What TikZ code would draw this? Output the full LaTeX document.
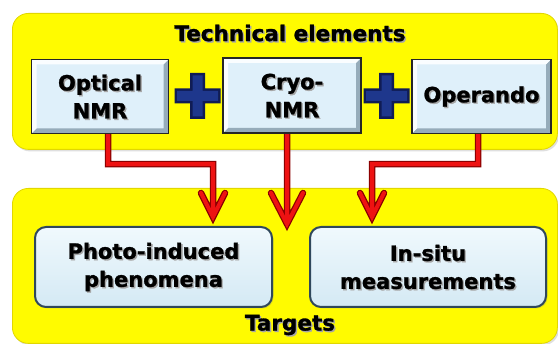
\documentclass[tikz,border=0pt]{standalone}
\usepackage{fontspec}
\setmainfont{DejaVu Sans}[BoldFeatures={FakeBold=1.3}]
\usetikzlibrary{calc,shadows}

\definecolor{panelyellow}{RGB}{255,251,0}
\definecolor{paneledge}{RGB}{225,215,0}
\definecolor{boxfill}{RGB}{223,240,250}
\definecolor{boxtop}{RGB}{240,249,253}
\definecolor{boxbottom}{RGB}{212,233,244}
\definecolor{bevdark}{RGB}{150,172,186}
\definecolor{bevlight}{RGB}{250,253,255}
\definecolor{rimblue}{RGB}{48,72,92}
\definecolor{navydark}{RGB}{16,28,85}
\definecolor{navymid}{RGB}{30,55,140}
\definecolor{arrowred}{RGB}{238,18,18}
\definecolor{arrowdark}{RGB}{140,0,0}

\tikzset{
  panel/.style={fill=panelyellow, draw=paneledge, line width=0.8pt,
    rounded corners=16pt, minimum width=545pt, anchor=north west,
    drop shadow={opacity=0.25, shadow xshift=1.5pt, shadow yshift=-2pt}},
  bevelbox/.style={fill=boxfill, draw=black!85, line width=1.3pt,
    minimum width=137pt, minimum height=74pt,
    path picture={
      \fill[bevdark] (path picture bounding box.south west)
        -- (path picture bounding box.south east)
        -- (path picture bounding box.north east)
        -- ([shift={(-5pt,-5pt)}]path picture bounding box.north east)
        -- ([shift={(-5pt,5pt)}]path picture bounding box.south east)
        -- ([shift={(5pt,5pt)}]path picture bounding box.south west) -- cycle;
      \fill[bevlight] (path picture bounding box.south west)
        -- (path picture bounding box.north west)
        -- (path picture bounding box.north east)
        -- ([shift={(-5pt,-5pt)}]path picture bounding box.north east)
        -- ([shift={(5pt,-5pt)}]path picture bounding box.north west)
        -- ([shift={(5pt,5pt)}]path picture bounding box.south west) -- cycle;
    }},
  targetbox/.style={draw=rimblue, line width=2pt, rounded corners=11pt,
    top color=boxtop, bottom color=boxbottom,
    minimum width=236pt, minimum height=80pt,
    drop shadow={opacity=0.25, shadow xshift=1.5pt, shadow yshift=-1.5pt}},
  lbl/.style={font=\fontsize{21}{28}\selectfont\bfseries, align=center,
    text=black, inner sep=0pt},
  lblshadow/.style={lbl, text=black!35},
  titlelbl/.style={lbl, font=\fontsize{21.5}{28}\selectfont\bfseries},
  titlelblshadow/.style={titlelbl, text=black!35},
  tube/.style={draw=arrowred, line width=4pt, line join=miter, line cap=round,
    preaction={draw=arrowdark, line width=6.5pt, line join=miter, line cap=round}},
}

% text with a soft offset shadow
\newcommand\shadowlabel[4][lbl]{%
  \node[#1shadow] at ([shift={(1.4pt,-1.4pt)}]#3) {#4};
  \node[#1] (#2) at (#3) {#4};}

% bevelled blue plus sign
\newcommand\plussign[2]{%
  \begin{scope}[shift={(#1,#2)}]
    \fill[navydark] (-7.5,-23) -- (7.5,-23) -- (7.5,-7.5) -- (23,-7.5) -- (23,7.5)
      -- (7.5,7.5) -- (7.5,23) -- (-7.5,23) -- (-7.5,7.5) -- (-23,7.5)
      -- (-23,-7.5) -- (-7.5,-7.5) -- cycle;
    \fill[navymid] (-5,-20.5) -- (5,-20.5) -- (5,-5) -- (20.5,-5) -- (20.5,5)
      -- (5,5) -- (5,20.5) -- (-5,20.5) -- (-5,5) -- (-20.5,5)
      -- (-20.5,-5) -- (-5,-5) -- cycle;
  \end{scope}}

\begin{document}
\begin{tikzpicture}[x=1pt,y=-1pt]
\useasboundingbox (0,0) rectangle (558,344);
\fill[white] (0,0) rectangle (558,344);

% the two yellow panels
\node[panel, minimum height=136pt] (tech) at (12,13) {};
\node[panel, minimum height=155pt] (targets) at (12,188) {};

% technical elements (positions first, boxes drawn over the arrow starts)
\path (100,96.5) coordinate (optc) (292,95.5) coordinate (cryoc)
      (481.5,96.5) coordinate (operc);
\node[bevelbox] (opt) at (optc) {};
\node[bevelbox, minimum width=138pt, minimum height=75pt] (cryo) at (cryoc) {};
\node[bevelbox, minimum width=139pt] (oper) at (operc) {};

% arrow tips
\coordinate (t1) at (213,217);
\coordinate (t2) at (287,224);
\coordinate (t3) at (372,217);

\draw[tube] ([shift={(8pt,3pt)}]opt.south) -- ++(0,33) -| (t1)
  ($(t1)+(-12,-24)$) -- (t1) -- ($(t1)+(12,-24)$);
\draw[tube] ([shift={(-5pt,3pt)}]cryo.south) -- (t2)
  ($(t2)+(-16,-31)$) -- (t2) -- ($(t2)+(16,-31)$);
\draw[tube] ([shift={(-3.5pt,3pt)}]oper.south) -- ++(0,33) -| (t3)
  ($(t3)+(-12,-24)$) -- (t3) -- ($(t3)+(12,-24)$);

% redraw the boxes on top so the tubes start at their lower edges
\node[bevelbox] at (optc) {};
\node[bevelbox, minimum width=138pt, minimum height=75pt] at (cryoc) {};
\node[bevelbox, minimum width=139pt] at (operc) {};

\plussign{197.5}{96}
\plussign{386.5}{96}

% targets
\node[targetbox, minimum width=237pt] (photo) at (153.5,267) {};
\node[targetbox] (insitu) at (428,267) {};

% labels
\coordinate (techtitle) at (290,33);
\coordinate (targettitle) at (290,325);
\shadowlabel[titlelbl]{techlbl}{techtitle}{Technical elements}
\shadowlabel[titlelbl]{targetlbl}{targettitle}{Targets}
\shadowlabel{optlbl}{opt}{Optical\\NMR}
\shadowlabel{cryolbl}{cryo}{Cryo-\\NMR}
\shadowlabel{operlbl}{oper}{Operando}
\shadowlabel{photolbl}{photo}{Photo-induced\\phenomena}
\shadowlabel{insitulbl}{insitu}{In-situ\\measurements}
\end{tikzpicture}
\end{document}
